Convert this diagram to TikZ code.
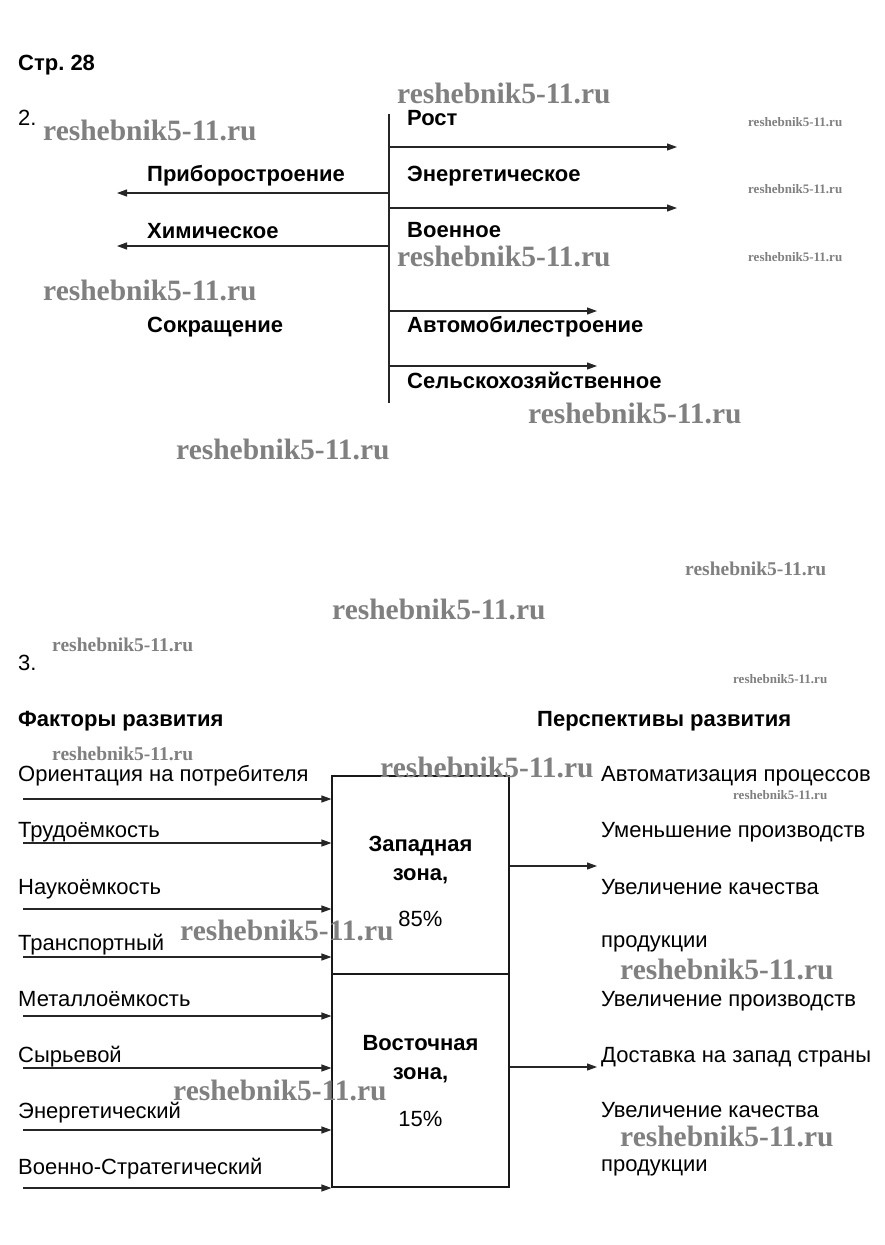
\documentclass[tikz,border=0pt]{standalone}
\usepackage{fontspec}
\setmainfont{Liberation Sans}
\newfontfamily\wmfont{Liberation Serif}
\usetikzlibrary{arrows.meta}
\frenchspacing
\begin{document}
\begin{tikzpicture}[x=1pt,y=-1pt,
  lbl/.style={anchor=base west,inner sep=0pt,font=\fontsize{22}{24}\selectfont},
  blbl/.style={anchor=base west,inner sep=0pt,font=\fontsize{22}{24}\selectfont\bfseries},
  ctr/.style={anchor=base,inner sep=0pt,font=\fontsize{22}{24}\selectfont},
  bctr/.style={anchor=base,inner sep=0pt,font=\fontsize{22}{24}\selectfont\bfseries},
  arr/.style={-{Triangle[length=10pt,width=7pt]},line width=1.1pt,draw=black!85},
  ln/.style={line width=1.1pt,draw=black!85},
  zone/.style={draw=black!90,line width=1.1pt,minimum width=177pt,inner sep=0pt},
  wmL/.style={anchor=west,inner sep=0pt,text=black!50,font=\wmfont\bfseries\fontsize{29.5}{30}\selectfont},
  wmM/.style={anchor=west,inner sep=0pt,text=black!50,font=\wmfont\bfseries\fontsize{19.5}{20}\selectfont},
  wmS/.style={anchor=west,inner sep=0pt,text=black!50,font=\wmfont\bfseries\fontsize{13}{14}\selectfont}]
\useasboundingbox[fill=white] (0,0) rectangle (885,1245);

% ---------- Section 2 ----------
\node[blbl] (page) at (18,70) {Стр. 28};
\node[lbl] (n2) at (18,125) {2.};

\coordinate (ttop) at (389,114);
\coordinate (tbot) at (389,403);
\draw[ln] (ttop) -- (tbot);

\coordinate (r1s) at (389,147); \coordinate (r1e) at (677,147);
\coordinate (r2s) at (389,208); \coordinate (r2e) at (677,208);
\coordinate (r3s) at (389,311); \coordinate (r3e) at (597,311);
\coordinate (r4s) at (389,366); \coordinate (r4e) at (597,366);
\coordinate (l1s) at (389,193); \coordinate (l1e) at (117,193);
\coordinate (l2s) at (389,246); \coordinate (l2e) at (117,246);
\draw[arr] (r1s) -- (r1e);
\draw[arr] (r2s) -- (r2e);
\draw[arr] (r3s) -- (r3e);
\draw[arr] (r4s) -- (r4e);
\draw[arr] (l1s) -- (l1e);
\draw[arr] (l2s) -- (l2e);

\node[blbl] (rost) at (407,125) {Рост};
\node[blbl] (energ) at (407,181) {Энергетическое};
\node[blbl] (voen) at (407,237) {Военное};
\node[blbl] (avto) at (407,332) {Автомобилестроение};
\node[blbl] (selsk) at (407,388) {Сельскохозяйственное};
\node[blbl] (pribor) at (147,181) {Приборостроение};
\node[blbl] (khim) at (147,238) {Химическое};
\node[blbl] (sokr) at (147,332) {Сокращение};

% ---------- Section 3 ----------
\node[lbl] (n3) at (18,670) {3.};
\node[blbl] (fakt) at (18,726) {Факторы развития};
\node[blbl] (persp) at (537,726) {Перспективы развития};

\node[zone,minimum height=198pt] (west) at (420.5,875) {};
\node[zone,minimum height=213pt] (east) at (420.5,1080.5) {};

\node[bctr] (w1) at (420.5,851) {Западная};
\node[bctr] (w2) at (420.5,880) {зона,};
\node[ctr] (w3) at (420.5,926) {85\%};
\node[bctr] (e1) at (420.5,1050) {Восточная};
\node[bctr] (e2) at (420.5,1079) {зона,};
\node[ctr] (e3) at (420.5,1126) {15\%};

\node[lbl] (f1) at (18,781) {Ориентация на потребителя};
\node[lbl] (f2) at (18,837) {Трудоёмкость};
\node[lbl] (f3) at (18,894) {Наукоёмкость};
\node[lbl] (f4) at (18,950) {Транспортный};
\node[lbl] (f5) at (18,1006) {Металлоёмкость};
\node[lbl] (f6) at (18,1062) {Сырьевой};
\node[lbl] (f7) at (18,1118) {Энергетический};
\node[lbl] (f8) at (18,1174) {Военно-Стратегический};

\coordinate (a1) at (23,799);
\coordinate (a2) at (23,843);
\coordinate (a3) at (23,909);
\coordinate (a4) at (23,957);
\coordinate (a5) at (23,1016);
\coordinate (a6) at (23,1068);
\coordinate (a7) at (23,1130);
\coordinate (a8) at (23,1188);
\draw[arr] (a1) -- (a1 -| west.west);
\draw[arr] (a2) -- (a2 -| west.west);
\draw[arr] (a3) -- (a3 -| west.west);
\draw[arr] (a4) -- (a4 -| west.west);
\draw[arr] (a5) -- (a5 -| east.west);
\draw[arr] (a6) -- (a6 -| east.west);
\draw[arr] (a7) -- (a7 -| east.west);
\draw[arr] (a8) -- (a8 -| east.west);

\coordinate (o1) at (597,866);
\coordinate (o2) at (597,1067);
\draw[arr] (o1 -| west.east) -- (o1);
\draw[arr] (o2 -| east.east) -- (o2);

\node[lbl] (p1) at (601,781) {Автоматизация процессов};
\node[lbl] (p2) at (601,837) {Уменьшение производств};
\node[lbl] (p3) at (601,894) {Увеличение качества};
\node[lbl] (p4) at (601,947) {продукции};
\node[lbl] (p5) at (601,1006) {Увеличение производств};
\node[lbl] (p6) at (601,1062) {Доставка на запад страны};
\node[lbl] (p7) at (601,1117) {Увеличение качества};
\node[lbl] (p8) at (601,1171) {продукции};

% ---------- watermarks ----------
\node[wmL] (wm1) at (397,93) {reshebnik5-11.ru};
\node[wmL] (wm2) at (43,130) {reshebnik5-11.ru};
\node[wmL] (wm3) at (397,256) {reshebnik5-11.ru};
\node[wmL] (wm4) at (43,290) {reshebnik5-11.ru};
\node[wmL] (wm5) at (528,413) {reshebnik5-11.ru};
\node[wmL] (wm6) at (176,449) {reshebnik5-11.ru};
\node[wmS] (wm7) at (748,122) {reshebnik5-11.ru};
\node[wmS] (wm8) at (748,189) {reshebnik5-11.ru};
\node[wmS] (wm9) at (748,257) {reshebnik5-11.ru};
\node[wmM] (wm10) at (685,569) {reshebnik5-11.ru};
\node[wmL] (wm11) at (332,609) {reshebnik5-11.ru};
\node[wmM] (wm12) at (52,645) {reshebnik5-11.ru};
\node[wmS] (wm13) at (733,679) {reshebnik5-11.ru};
\node[wmM] (wm14) at (52,754) {reshebnik5-11.ru};
\node[wmL] (wm15) at (380,767) {reshebnik5-11.ru};
\node[wmS] (wm16) at (733,795) {reshebnik5-11.ru};
\node[wmL] (wm17) at (180,930) {reshebnik5-11.ru};
\node[wmL] (wm18) at (620,969) {reshebnik5-11.ru};
\node[wmL] (wm19) at (173,1090) {reshebnik5-11.ru};
\node[wmL] (wm20) at (620,1136) {reshebnik5-11.ru};
\end{tikzpicture}
\end{document}
